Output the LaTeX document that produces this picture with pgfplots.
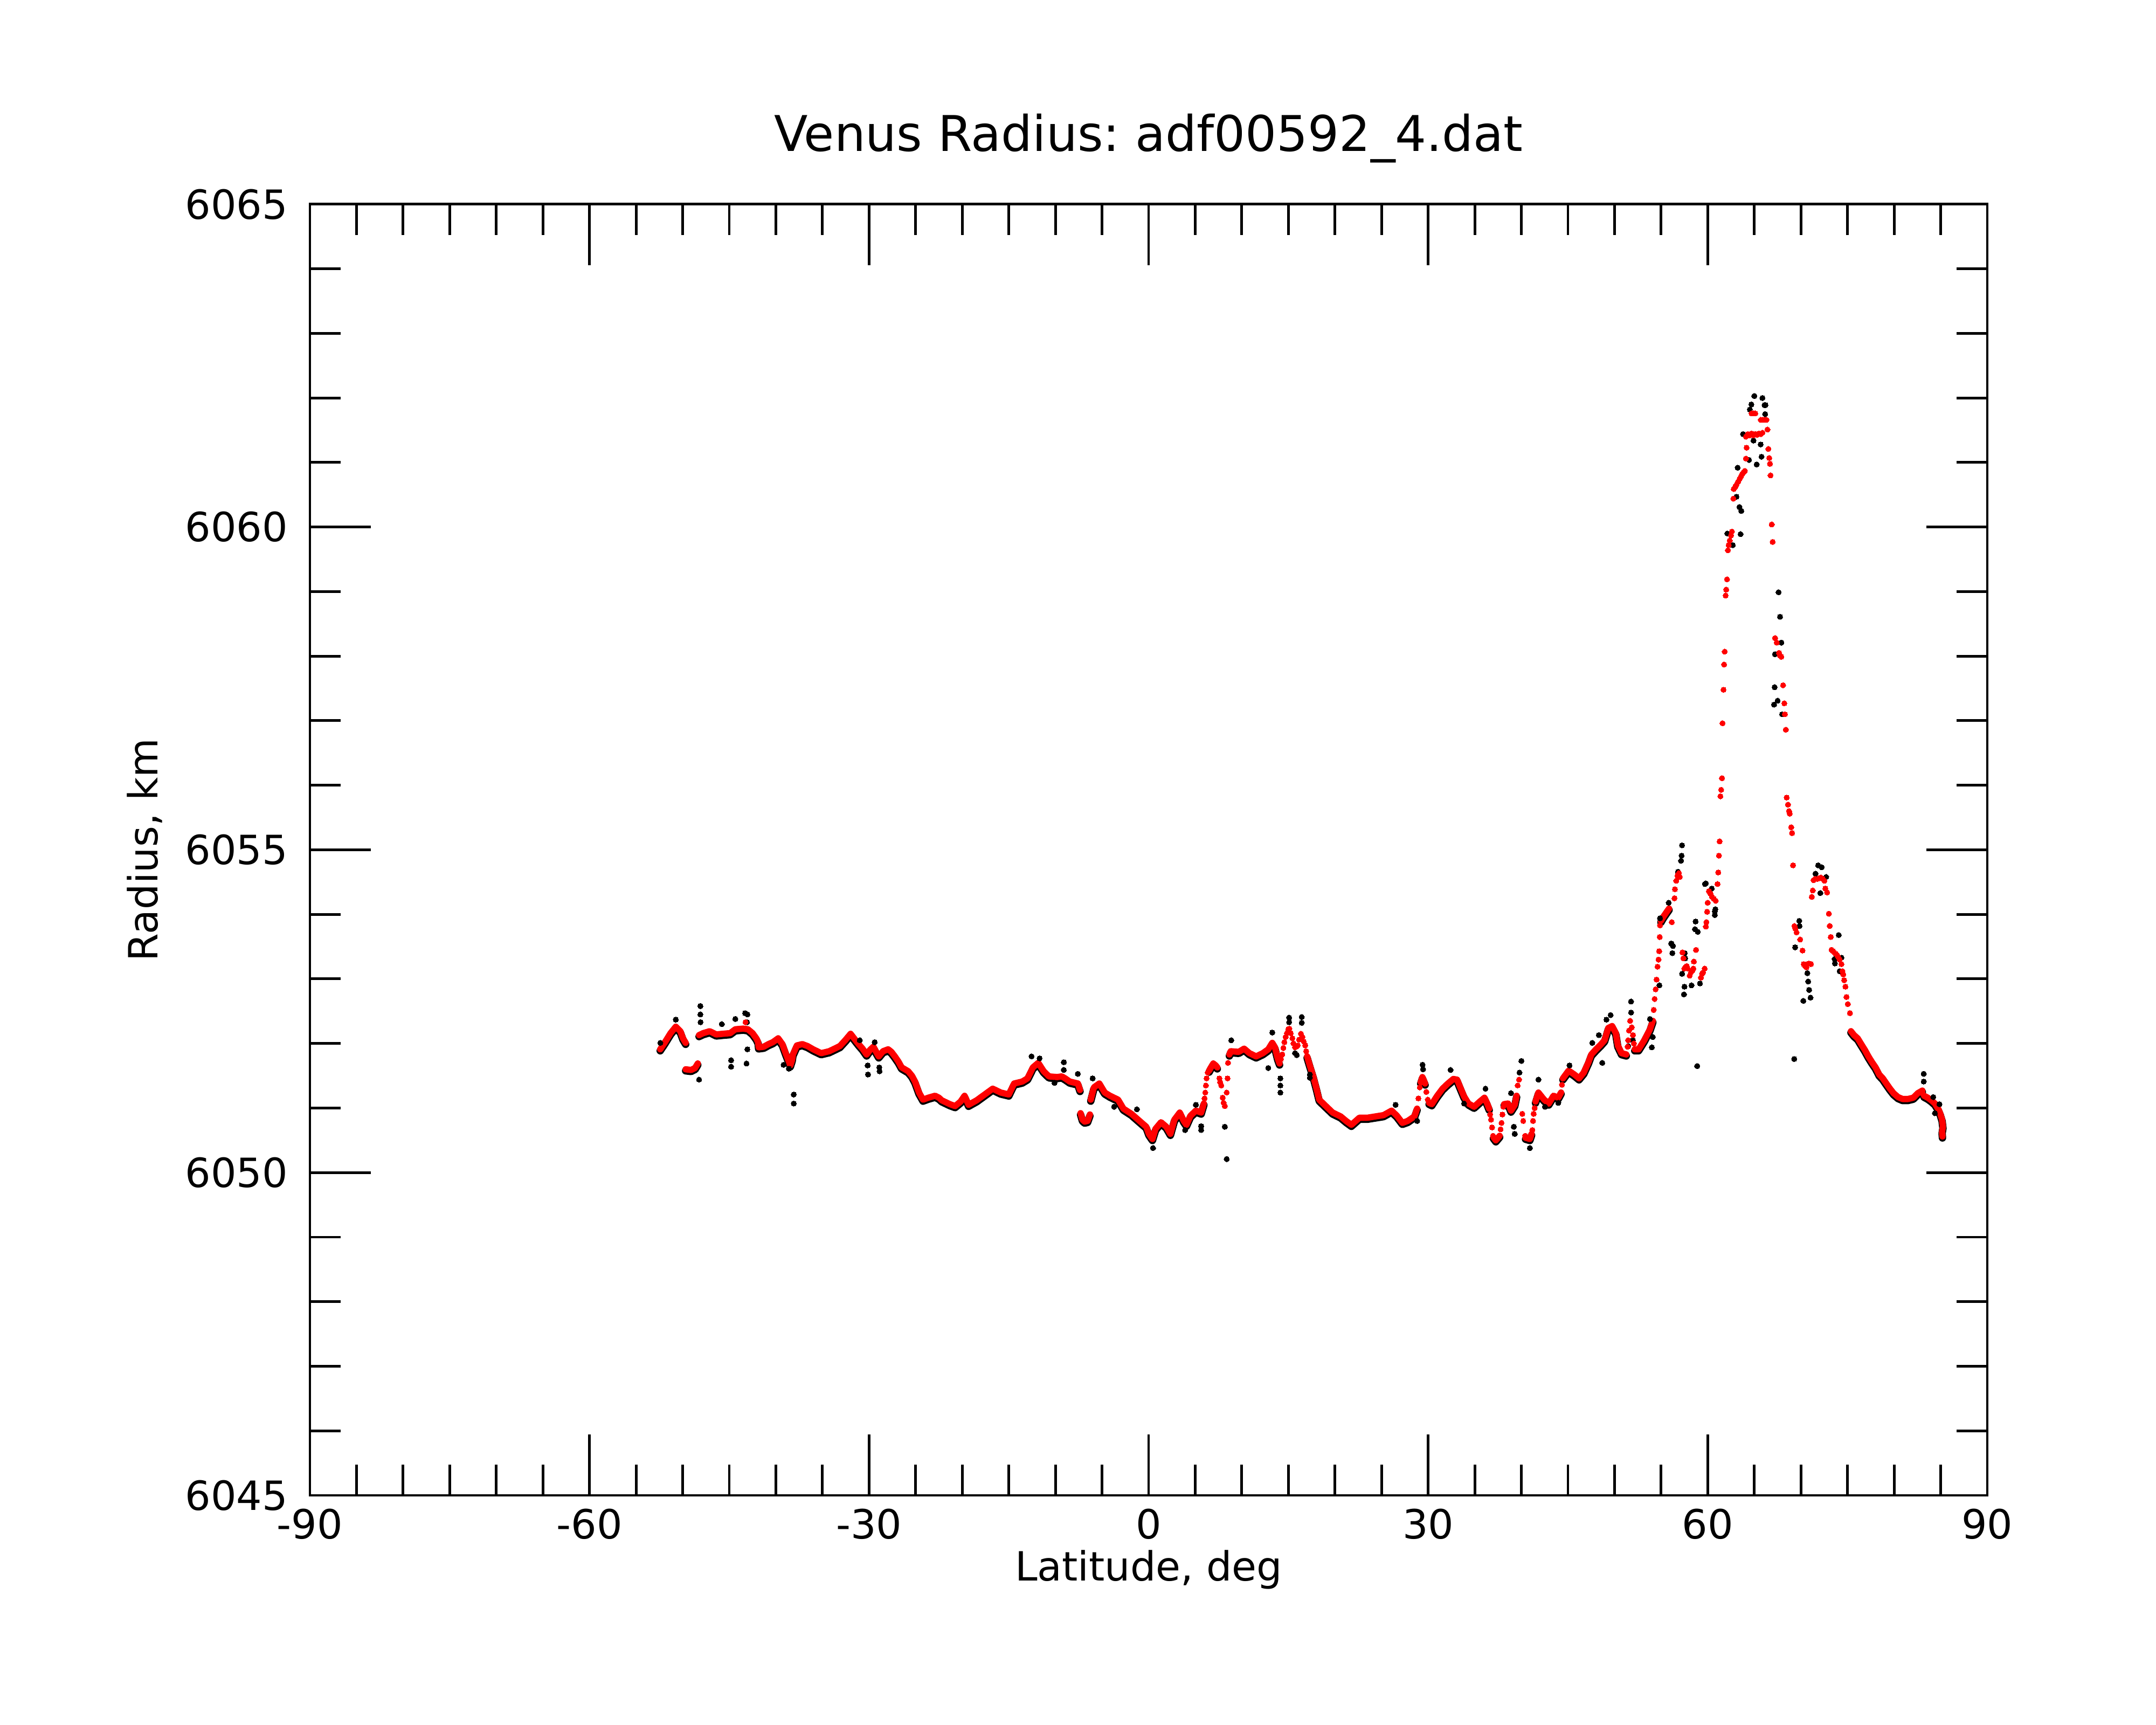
\documentclass[border=0pt]{standalone}
\usepackage{fontspec}
\setmainfont{DejaVu Sans}
\usepackage{pgfplots}
\pgfplotsset{compat=1.18}
\usepackage{pgfplotstable}
\frenchspacing

% red smoothed series, continuous runs separated by nan
\pgfplotstableread{
x y
-52.41 6051.91
-51.90 6052.02
-51.30 6052.16
-50.74 6052.26
-50.25 6052.19
-49.97 6052.08
-49.68 6052.01
nan nan
-49.68 6051.60
-49.10 6051.59
-48.67 6051.62
-48.38 6051.69
nan nan
-48.24 6052.13
-47.80 6052.16
-47.10 6052.19
-46.40 6052.14
-45.70 6052.15
-44.90 6052.16
-44.35 6052.22
-43.50 6052.23
-43.00 6052.22
-42.50 6052.16
-42.10 6052.08
-41.90 6052.02
-41.85 6051.94
-41.30 6051.95
-40.80 6051.99
-40.33 6052.02
-39.75 6052.08
-39.30 6051.99
-38.95 6051.85
-38.60 6051.72
-38.45 6051.66
-38.25 6051.75
-38.17 6051.83
-37.74 6051.97
-37.16 6051.99
-36.60 6051.96
-36.00 6051.91
-35.14 6051.85
-34.28 6051.88
-33.70 6051.92
-33.13 6051.96
-32.56 6052.05
-31.98 6052.15
-31.50 6052.06
-31.12 6051.99
-30.70 6051.92
-30.26 6051.83
-29.90 6051.90
-29.53 6051.95
-29.20 6051.86
-28.96 6051.80
-28.50 6051.88
-27.95 6051.91
-27.60 6051.87
-27.23 6051.80
-26.85 6051.72
-26.51 6051.63
-25.80 6051.57
-25.40 6051.50
-25.07 6051.41
-24.64 6051.24
-24.21 6051.13
-23.64 6051.16
-22.92 6051.19
-22.50 6051.16
-22.20 6051.12
-21.33 6051.06
-20.76 6051.03
-20.18 6051.10
-19.75 6051.19
-19.32 6051.05
-18.45 6051.12
-17.59 6051.21
-16.73 6051.30
-16.30 6051.27
-15.87 6051.24
-15.00 6051.21
-14.70 6051.30
-14.43 6051.38
-13.56 6051.41
-12.99 6051.46
-12.41 6051.63
-11.84 6051.70
-11.26 6051.57
-10.69 6051.49
-9.82 6051.48
-9.32 6051.49
-8.96 6051.46
-8.46 6051.41
-7.59 6051.38
-7.36 6051.28
nan nan
-7.30 6050.92
-7.10 6050.82
-6.87 6050.79
-6.55 6050.80
-6.30 6050.90
nan nan
-6.21 6051.13
-5.87 6051.32
-5.29 6051.38
-4.71 6051.24
-4.14 6051.19
-3.28 6051.13
-2.70 6050.99
-1.84 6050.91
-0.97 6050.80
-0.25 6050.71
0.03 6050.60
0.41 6050.52
0.75 6050.68
1.33 6050.78
1.90 6050.71
2.34 6050.60
2.77 6050.82
3.34 6050.93
3.77 6050.80
4.06 6050.74
4.49 6050.88
5.07 6050.96
5.64 6050.93
5.93 6051.07
nan nan
6.50 6051.58
6.65 6051.62
6.94 6051.69
7.20 6051.66
7.37 6051.63
nan nan
8.67 6051.83
8.81 6051.88
9.67 6051.87
10.25 6051.92
10.82 6051.85
11.54 6051.80
12.26 6051.85
12.84 6051.91
13.27 6052.01
13.56 6051.94
13.85 6051.77
14.05 6051.69
nan nan
17.01 6051.80
17.30 6051.66
17.67 6051.49
18.02 6051.30
18.31 6051.13
18.88 6051.05
19.75 6050.93
20.61 6050.87
21.19 6050.80
21.76 6050.74
22.62 6050.85
23.49 6050.85
24.35 6050.87
25.21 6050.89
26.08 6050.96
26.65 6050.88
27.23 6050.77
27.80 6050.80
28.52 6050.87
28.81 6050.99
nan nan
29.20 6051.40
29.38 6051.48
29.67 6051.38
nan nan
30.10 6051.08
30.39 6051.06
30.97 6051.19
31.54 6051.30
32.12 6051.38
32.70 6051.45
33.10 6051.44
33.50 6051.30
33.85 6051.18
34.32 6051.07
34.93 6051.02
35.54 6051.10
36.04 6051.16
36.30 6051.08
36.55 6050.99
nan nan
37.00 6050.55
37.26 6050.50
37.50 6050.54
37.67 6050.57
nan nan
38.15 6051.06
38.58 6051.07
38.89 6050.96
39.29 6051.05
39.49 6051.19
nan nan
40.45 6050.54
40.91 6050.52
41.10 6050.60
nan nan
41.52 6051.10
41.83 6051.24
42.44 6051.13
42.94 6051.07
43.45 6051.19
43.96 6051.16
44.26 6051.24
nan nan
44.46 6051.46
45.07 6051.58
45.68 6051.52
46.19 6051.46
46.70 6051.55
47.20 6051.71
47.51 6051.83
48.01 6051.91
48.50 6051.98
48.93 6052.05
49.33 6052.24
49.74 6052.27
50.14 6052.16
50.35 6051.97
50.75 6051.85
51.26 6051.83
nan nan
52.17 6051.91
52.58 6051.91
53.19 6052.05
53.80 6052.22
54.11 6052.35
nan nan
54.98 6053.90
55.27 6053.97
55.65 6054.05
55.85 6054.09
nan nan
75.37 6052.19
75.70 6052.13
76.09 6052.08
76.47 6051.99
76.86 6051.90
77.24 6051.80
77.63 6051.71
78.01 6051.63
78.40 6051.52
78.79 6051.46
79.17 6051.38
79.56 6051.30
79.94 6051.23
80.42 6051.17
80.91 6051.14
81.48 6051.14
82.06 6051.16
82.54 6051.23
83.03 6051.27
nan nan
83.22 6051.19
83.61 6051.16
83.99 6051.12
84.38 6051.07
84.76 6050.98
84.96 6050.91
85.15 6050.82
85.24 6050.71
85.15 6050.63
85.19 6050.56
}\redband

% red points standing apart from the runs
\pgfplotstableread{
x y
-43.26 6052.33
6.00 6051.15
6.08 6051.24
6.15 6051.35
6.22 6051.46
6.35 6051.55
7.60 6051.46
7.68 6051.40
7.80 6051.35
7.95 6051.16
8.05 6051.08
8.18 6051.03
8.38 6051.24
8.47 6051.46
8.52 6051.70
14.20 6051.76
14.34 6051.83
14.46 6051.93
14.57 6052.02
14.70 6052.10
14.85 6052.16
14.98 6052.22
15.10 6052.23
15.25 6052.16
15.43 6052.08
15.55 6052.00
15.72 6051.94
15.85 6051.95
16.00 6051.97
16.15 6052.06
16.35 6052.15
16.50 6052.10
16.65 6052.03
16.81 6051.97
16.91 6051.88
28.95 6051.15
29.10 6051.32
29.80 6051.25
29.96 6051.13
36.65 6050.90
36.75 6050.82
36.85 6050.70
36.96 6050.57
37.77 6050.67
37.87 6050.77
37.97 6050.90
38.07 6051.02
39.60 6051.35
39.75 6051.44
40.10 6050.91
40.20 6050.80
40.41 6050.57
41.18 6050.66
41.25 6050.80
41.32 6050.91
41.42 6051.00
44.36 6051.36
51.40 6051.95
51.46 6052.05
51.55 6052.20
51.67 6052.35
51.85 6052.25
51.97 6052.13
52.08 6052.00
54.20 6052.52
54.30 6052.69
54.41 6052.84
54.51 6052.99
54.61 6053.19
54.72 6053.30
54.79 6053.43
54.85 6053.65
54.88 6053.83
56.14 6053.88
56.43 6054.25
56.48 6054.39
56.62 6054.52
56.75 6054.60
56.91 6054.64
57.00 6054.58
57.29 6053.41
57.39 6053.32
57.49 6053.16
57.60 6053.18
57.75 6053.20
57.85 6053.16
58.06 6053.05
58.20 6053.10
58.36 6053.13
58.45 6053.16
58.51 6053.27
58.74 6053.45
59.27 6053.02
59.40 6053.08
59.50 6053.10
59.67 6053.16
59.80 6053.81
59.86 6053.88
59.93 6054.04
59.99 6054.18
60.13 6054.36
60.30 6054.32
60.47 6054.27
60.65 6054.24
60.86 6054.21
61.05 6054.47
61.13 6054.65
61.20 6054.91
61.28 6055.13
61.36 6055.83
61.44 6055.93
61.53 6056.11
61.59 6056.96
61.69 6057.48
61.76 6057.87
61.82 6058.07
61.92 6058.94
61.98 6059.03
62.07 6059.19
62.17 6059.64
62.25 6059.72
62.36 6059.79
62.50 6059.87
62.59 6059.93
62.75 6060.44
62.79 6060.59
62.95 6060.62
63.10 6060.66
63.25 6060.70
63.40 6060.74
63.55 6060.78
63.70 6060.82
63.85 6060.85
63.98 6060.87
64.10 6061.06
64.17 6061.23
64.10 6061.40
64.30 6061.44
64.50 6061.42
64.70 6061.45
64.90 6061.42
65.10 6061.44
65.30 6061.43
65.50 6061.45
65.70 6061.44
65.87 6061.46
64.70 6061.76
64.90 6061.76
65.10 6061.76
65.70 6061.66
65.90 6061.66
66.10 6061.66
66.30 6061.66
66.41 6061.51
66.51 6061.21
66.60 6061.07
66.68 6060.98
66.74 6060.80
66.87 6060.04
66.97 6059.77
67.22 6058.28
67.41 6058.21
67.65 6058.05
67.75 6058.01
67.90 6057.99
68.09 6057.55
68.22 6057.27
68.28 6057.10
68.38 6056.86
68.47 6055.81
68.61 6055.70
68.72 6055.60
68.80 6055.56
68.96 6055.35
69.05 6055.26
69.15 6054.76
69.30 6053.82
69.40 6053.78
69.53 6053.72
69.92 6053.61
70.17 6053.44
70.30 6053.23
70.45 6053.20
70.60 6053.18
70.69 6053.23
70.85 6053.24
71.07 6053.23
71.17 6054.27
71.27 6054.37
71.36 6054.53
71.55 6054.55
71.75 6054.55
71.95 6054.56
72.14 6054.57
72.35 6054.55
72.52 6054.52
72.62 6054.40
72.81 6054.34
73.00 6054.01
73.10 6053.82
73.20 6053.65
73.29 6053.45
73.45 6053.43
73.58 6053.41
73.72 6053.39
73.87 6053.37
74.00 6053.34
74.16 6053.30
74.35 6053.23
74.45 6053.12
74.54 6053.07
74.64 6052.98
74.78 6052.88
74.89 6052.72
75.03 6052.61
75.26 6052.47
83.10 6051.22
}\reddots

% black (raw) points standing apart from the red curve
\pgfplotstableread{
x y
-52.40 6052.01
-50.74 6052.37
-48.10 6052.58
-48.10 6052.45
-48.08 6052.33
-48.24 6051.44
-45.80 6052.30
-44.80 6051.64
-44.80 6051.74
-44.35 6052.38
-43.30 6052.47
-43.05 6052.45
-43.10 6052.33
-43.06 6051.91
-43.15 6051.69
-39.17 6051.67
-38.60 6051.61
-38.08 6051.21
-38.08 6051.07
-31.00 6052.05
-30.11 6051.52
-30.15 6051.66
-29.40 6052.02
-28.87 6051.57
-28.90 6051.63
-12.56 6051.80
-11.70 6051.77
-10.10 6051.39
-9.10 6051.71
-9.10 6051.59
-7.60 6051.53
-6.01 6051.46
-3.70 6051.02
-1.26 6050.98
0.47 6050.38
3.92 6050.66
5.07 6051.05
5.64 6050.66
5.64 6050.72
8.18 6050.71
8.38 6050.21
8.87 6052.05
12.84 6051.62
13.27 6052.17
14.14 6051.46
14.14 6051.35
14.14 6051.24
15.08 6052.40
15.08 6052.33
15.72 6051.85
15.90 6051.82
16.43 6052.41
16.43 6052.32
17.30 6051.52
17.30 6051.47
26.50 6051.05
28.81 6050.80
29.40 6051.67
29.45 6051.60
32.40 6051.59
33.85 6051.07
36.15 6051.30
38.89 6051.23
39.19 6050.71
39.29 6050.60
39.80 6051.55
40.00 6051.73
40.91 6050.38
41.83 6051.44
42.54 6051.02
43.96 6051.08
45.17 6051.66
47.61 6052.01
48.32 6052.13
48.68 6051.70
49.13 6052.37
49.58 6052.44
51.46 6051.96
51.77 6052.65
51.77 6052.48
51.97 6052.05
53.80 6052.38
54.00 6051.94
54.10 6052.10
54.81 6052.90
54.88 6053.94
55.81 6054.18
56.08 6053.55
56.27 6053.51
56.20 6053.40
56.13 6053.54
56.81 6054.66
57.14 6054.83
57.20 6054.91
57.24 6055.07
57.25 6053.08
57.45 6052.76
57.50 6052.88
57.53 6053.40
57.58 6053.32
58.26 6052.90
58.64 6053.77
58.70 6053.89
58.93 6053.73
58.87 6051.65
59.17 6052.93
59.70 6054.47
59.80 6054.48
60.43 6054.40
60.76 6054.05
60.82 6054.08
60.76 6053.99
62.11 6059.90
62.69 6059.72
63.08 6060.47
63.21 6060.92
63.40 6060.31
63.52 6059.89
63.60 6060.25
63.79 6061.44
64.43 6061.04
64.52 6061.82
64.68 6061.90
64.91 6061.34
65.00 6062.03
65.25 6060.97
65.68 6061.28
65.77 6061.09
65.87 6062.00
66.10 6061.89
66.20 6061.89
66.16 6061.75
67.12 6057.25
67.18 6057.52
67.22 6058.03
67.50 6057.31
67.60 6058.99
67.76 6058.61
67.90 6058.21
67.99 6057.10
69.28 6051.76
69.38 6053.49
69.82 6053.90
69.85 6053.82
70.26 6052.66
70.69 6053.09
70.78 6052.96
70.88 6052.83
71.03 6052.71
71.56 6054.63
71.85 6054.76
72.08 6054.33
72.23 6054.73
72.71 6054.58
73.62 6053.31
73.65 6053.24
74.06 6053.68
74.16 6053.12
74.35 6053.33
83.18 6051.53
83.18 6051.41
84.20 6051.17
84.38 6050.92
84.86 6051.06
}\blackdots

\begin{document}
\begin{tikzpicture}
\useasboundingbox (0,0) rectangle (10in,8in);
\begin{axis}[
  at={(1.4375in,1.065in)}, anchor=south west,
  scale only axis, width=7.78in, height=5.9875in,
  xmin=-90, xmax=90, ymin=6045, ymax=6065,
  xtick={-90,-60,...,90}, ytick={6045,6050,...,6065},
  minor x tick num=5, minor y tick num=4,
  major tick length=20.4pt, minor tick length=10.3pt,
  tick align=inside,
  tick style={line width=0.9pt, black},
  axis line style={line width=0.9pt},
  scaled ticks=false,
  /pgf/number format/1000 sep={},
  /pgf/number format/assume math mode=true,
  unbounded coords=jump,
  tick label style={font=\fontsize{13.5}{16}\selectfont},
  xticklabel style={anchor=base, yshift=-14.6pt},
  yticklabel style={anchor=east, inner sep=0pt, xshift=-7.2pt},
  label style={font=\fontsize{13.5}{16}\selectfont},
  xlabel={Latitude, deg},
  ylabel={Radius, km},
  xlabel style={at={(axis description cs:0.5,-0.066)}, anchor=base},
  ylabel style={at={(axis description cs:-0.0909,0.5)}, anchor=base},
  title={Venus Radius:\ adf00592\_4.dat},
  title style={at={(axis description cs:0.5,1.0271)}, anchor=base, font=\fontsize{16.5}{20}\selectfont},
]
\addplot[black, line width=2.5pt, line join=round, line cap=round, yshift=-0.5pt] table {\redband};
\addplot[only marks, mark=*, mark size=0.9pt, mark options={fill=black, draw=black, line width=0pt}] table {\blackdots};
\addplot[red, line width=2.1pt, line join=round, line cap=round] table {\redband};
\addplot[only marks, mark=*, mark size=0.9pt, mark options={fill=red, draw=red, line width=0pt}] table {\reddots};
\end{axis}
\end{tikzpicture}
\end{document}
